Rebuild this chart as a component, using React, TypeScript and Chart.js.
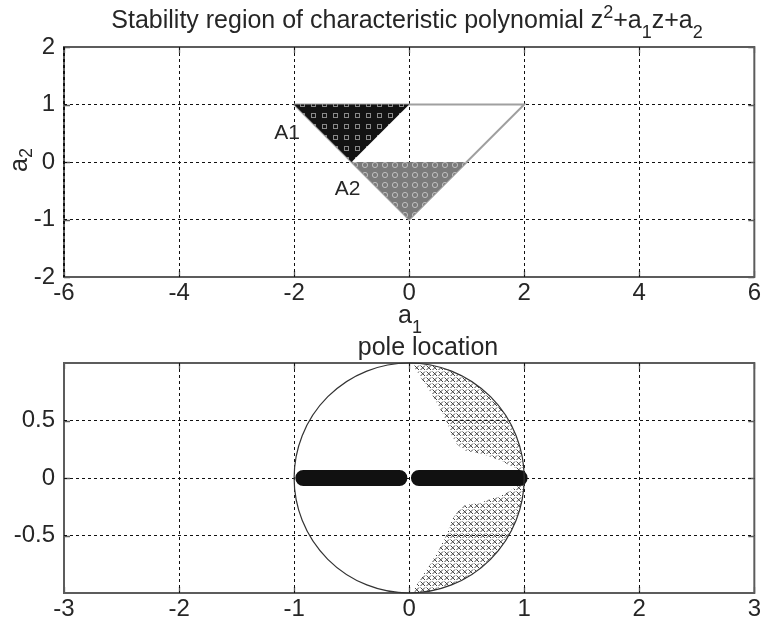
import React, { useEffect, useRef } from 'react';
import { Chart, registerables } from 'chart.js';
Chart.register(...registerables);

const FONT = '"Liberation Sans", Arial, Helvetica, sans-serif';
const TEXT = '#262626';

// ---- top plot: stability region ----
const TOP_X_TICKS = [-6, -4, -2, 0, 2, 4, 6];
const TOP_Y_TICKS = [-2, -1, 0, 1, 2];
const STABLE_X = [-2, 2, 0, -2];
const STABLE_Y = [1, 1, -1, 1];
const A1_X = [-2, 0, -1, -2];
const A1_Y = [1, 1, 0, 1];
const A2_X = [-1, 1, 0, -1];
const A2_Y = [0, 0, -1, 0];
const REGION_NAMES = ['A1', 'A2'];
const REGION_LABEL_X = [-2.12, -1.07];
const REGION_LABEL_Y = [0.5, -0.47];

// ---- bottom plot: pole location ----
const BOTTOM_X_TICKS = [-3, -2, -1, 0, 1, 2, 3];
const BOTTOM_Y_TICKS = [-0.5, 0, 0.5];
const UNIT_CIRCLE_RADIUS = 1;
const REAL_POLE_X = [-0.92, -0.085, 0, 0.085, 0.96];
const REAL_POLE_Y = [0, 0, null, 0, 0];
const COMPLEX_OUTER_X = [0.05, 0.2, 0.35, 0.5, 0.62, 0.72, 0.81, 0.88, 0.93, 0.97, 0.99, 1.0];
const COMPLEX_OUTER_Y = [0.998, 0.98, 0.94, 0.87, 0.78, 0.69, 0.59, 0.47, 0.36, 0.24, 0.12, 0.05];
const COMPLEX_INNER_X = [0.95, 0.8, 0.63, 0.48, 0.41, 0.37, 0.33, 0.26, 0.19, 0.11, 0.04];
const COMPLEX_INNER_Y = [0.07, 0.15, 0.21, 0.24, 0.3, 0.37, 0.48, 0.62, 0.74, 0.86, 0.97];

type Seg = { t: string; k?: 'sup' | 'sub' };

function drawRich(ctx: CanvasRenderingContext2D, segs: Seg[], cx: number, baseline: number, size: number, subShift = 0.38) {
  const small = Math.round(size * 0.72);
  const widths = segs.map((s) => {
    ctx.font = `${s.k ? small : size}px ${FONT}`;
    return ctx.measureText(s.t).width;
  });
  const total = widths.reduce((a, b) => a + b, 0);
  let x = cx - total / 2;
  ctx.textAlign = 'left';
  ctx.textBaseline = 'alphabetic';
  segs.forEach((s, i) => {
    ctx.font = `${s.k ? small : size}px ${FONT}`;
    const dy = s.k === 'sup' ? -size * 0.42 : s.k === 'sub' ? size * subShift : 0;
    ctx.fillText(s.t, x, baseline + dy);
    x += widths[i];
  });
}

function pts(xs: number[], ys: (number | null)[]) {
  return xs.map((x, i) => ({ x, y: ys[i] }));
}

function makePattern(ctx: CanvasRenderingContext2D, w: number, h: number, paint: (g: CanvasRenderingContext2D) => void) {
  const c = document.createElement('canvas');
  c.width = w;
  c.height = h;
  const g = c.getContext('2d')!;
  paint(g);
  return ctx.createPattern(c, 'repeat')!;
}

function framePlugin(xTicks: number[], yTicks: number[]) {
  return {
    id: 'frame',
    beforeDraw(chart: any) {
      const { ctx, chartArea: a, scales } = chart;
      ctx.save();
      ctx.fillStyle = '#fff';
      ctx.fillRect(0, 0, chart.width, chart.height);
      ctx.strokeStyle = '#5c5c5c';
      ctx.lineWidth = 2;
      ctx.strokeRect(a.left, a.top, a.right - a.left, a.bottom - a.top);
      ctx.lineWidth = 1.3;
      ctx.beginPath();
      xTicks.forEach((v) => {
        const px = Math.round(scales.x.getPixelForValue(v)) + 0.5;
        ctx.moveTo(px, a.bottom);
        ctx.lineTo(px, a.bottom - 6);
        ctx.moveTo(px, a.top);
        ctx.lineTo(px, a.top + 6);
      });
      yTicks.forEach((v) => {
        const py = Math.round(scales.y.getPixelForValue(v)) + 0.5;
        ctx.moveTo(a.left, py);
        ctx.lineTo(a.left + 6, py);
        ctx.moveTo(a.right, py);
        ctx.lineTo(a.right - 6, py);
      });
      ctx.stroke();
      ctx.restore();
    },
  };
}

function axisOptions(
  min: number, max: number, ticks: number[], hidden: number[], bold: number[], fit: (s: any) => void, pad: number,
) {
  return {
    type: 'linear' as const,
    min,
    max,
    afterBuildTicks: (s: any) => {
      s.ticks = ticks.map((v) => ({ value: v }));
    },
    afterFit: fit,
    grid: {
      color: (c: any) => (c.tick && hidden.includes(c.tick.value) ? 'rgba(0,0,0,0)' : '#111'),
      lineWidth: (c: any) => (c.tick && bold.includes(c.tick.value) ? 2 : 1),
      drawTicks: false,
    },
    border: { display: false, dash: [3, 3] },
    ticks: {
      color: TEXT,
      font: { family: FONT, size: 24 },
      padding: pad,
      autoSkip: false,
      maxRotation: 0,
      callback: (v: any) => String(v),
    },
  };
}

export default function App() {
  const topRef = useRef<HTMLCanvasElement>(null);
  const botRef = useRef<HTMLCanvasElement>(null);

  useEffect(() => {
    const topCanvas = topRef.current!;
    const botCanvas = botRef.current!;
    const tctx = topCanvas.getContext('2d')!;
    const bctx = botCanvas.getContext('2d')!;

    const a1Pattern = makePattern(tctx, 11, 11, (g) => {
      g.fillStyle = '#131313';
      g.fillRect(0, 0, 11, 11);
      g.strokeStyle = '#8a8a8a';
      g.lineWidth = 1;
      g.strokeRect(3.5, 3.5, 4, 4);
    });
    const a2Pattern = makePattern(tctx, 10, 10, (g) => {
      g.fillStyle = '#7a7a7a';
      g.fillRect(0, 0, 10, 10);
      g.strokeStyle = '#c0c0c0';
      g.lineWidth = 1;
      g.beginPath();
      g.arc(5, 5, 2.6, 0, Math.PI * 2);
      g.stroke();
    });
    const xPattern = makePattern(bctx, 6, 6, (g) => {
      g.strokeStyle = '#444';
      g.lineWidth = 1;
      g.beginPath();
      g.moveTo(0.5, 0.5);
      g.lineTo(5, 5);
      g.moveTo(5, 0.5);
      g.lineTo(0.5, 5);
      g.stroke();
    });

    const topText = {
      id: 'topText',
      afterDraw(chart: any) {
        const { ctx, scales } = chart;
        ctx.save();
        ctx.fillStyle = TEXT;
        drawRich(ctx, [
          { t: 'Stability region of characteristic polynomial z' },
          { t: '2', k: 'sup' },
          { t: '+a' },
          { t: '1', k: 'sub' },
          { t: 'z+a' },
          { t: '2', k: 'sub' },
        ], 407, 28, 25);
        drawRich(ctx, [{ t: 'a' }, { t: '1', k: 'sub' }], 410, 323, 25);
        ctx.save();
        ctx.translate(27, 160);
        ctx.rotate(-Math.PI / 2);
        drawRich(ctx, [{ t: 'a' }, { t: '2', k: 'sub' }], 0, 0, 25, 0.2);
        ctx.restore();
        ctx.font = `21px ${FONT}`;
        ctx.textAlign = 'center';
        ctx.textBaseline = 'middle';
        REGION_NAMES.forEach((n, i) => {
          ctx.fillText(n, scales.x.getPixelForValue(REGION_LABEL_X[i]), scales.y.getPixelForValue(REGION_LABEL_Y[i]));
        });
        ctx.restore();
      },
    };

    const topChart = new Chart(topCanvas, {
      type: 'scatter',
      data: {
        datasets: [
          { data: pts(A1_X, A1_Y), showLine: true, fill: 'shape', backgroundColor: a1Pattern, borderWidth: 0, pointRadius: 0 } as any,
          { data: pts(A2_X, A2_Y), showLine: true, fill: 'shape', backgroundColor: a2Pattern, borderWidth: 0, pointRadius: 0 } as any,
          { data: pts(STABLE_X, STABLE_Y), showLine: true, fill: false, borderColor: '#a0a0a0', borderWidth: 2, pointRadius: 0 } as any,
        ],
      },
      options: {
        animation: false,
        responsive: false,
        layout: { padding: { top: 47, left: 0, right: 6, bottom: 0 } },
        plugins: { legend: { display: false }, tooltip: { enabled: false } },
        scales: {
          x: axisOptions(-6, 6, TOP_X_TICKS, [6], [-6], (s: any) => { s.height = 58; }, 2),
          y: axisOptions(-2, 2, TOP_Y_TICKS, [-2, 2], [], (s: any) => { s.width = 64; }, 9),
        },
      } as any,
      plugins: [framePlugin(TOP_X_TICKS, TOP_Y_TICKS), topText],
    });

    const botText = {
      id: 'botText',
      afterDatasetsDraw(chart: any) {
        const { ctx, scales } = chart;
        const cx = scales.x.getPixelForValue(0);
        const cy = scales.y.getPixelForValue(0);
        const rx = scales.x.getPixelForValue(UNIT_CIRCLE_RADIUS) - cx;
        const ry = cy - scales.y.getPixelForValue(UNIT_CIRCLE_RADIUS);
        ctx.save();
        ctx.strokeStyle = '#333';
        ctx.lineWidth = 1.2;
        ctx.beginPath();
        ctx.ellipse(cx, cy, rx, ry, 0, 0, Math.PI * 2);
        ctx.stroke();
        ctx.restore();
      },
      afterDraw(chart: any) {
        const { ctx } = chart;
        ctx.save();
        ctx.fillStyle = TEXT;
        drawRich(ctx, [{ t: 'pole location' }], 428, 20, 25);
        ctx.restore();
      },
    };

    const lensUpper = pts([...COMPLEX_OUTER_X, ...COMPLEX_INNER_X], [...COMPLEX_OUTER_Y, ...COMPLEX_INNER_Y]);
    const lensLower = lensUpper.map((p) => ({ x: p.x, y: -(p.y as number) }));

    const botChart = new Chart(botCanvas, {
      type: 'scatter',
      data: {
        datasets: [
          { data: pts(REAL_POLE_X, REAL_POLE_Y), showLine: true, spanGaps: false, borderColor: '#111', borderWidth: 16, borderCapStyle: 'round', pointRadius: 0 } as any,
          { data: lensUpper, showLine: true, fill: 'shape', backgroundColor: xPattern, borderWidth: 0, pointRadius: 0 } as any,
          { data: lensLower, showLine: true, fill: 'shape', backgroundColor: xPattern, borderWidth: 0, pointRadius: 0 } as any,
        ],
      },
      options: {
        animation: false,
        responsive: false,
        layout: { padding: { top: 28, left: 0, right: 6, bottom: 0 } },
        plugins: { legend: { display: false }, tooltip: { enabled: false } },
        scales: {
          x: axisOptions(-3, 3, BOTTOM_X_TICKS, [-3, 3], [], (s: any) => { s.height = 37; }, 2),
          y: axisOptions(-1, 1, BOTTOM_Y_TICKS, [], [], (s: any) => { s.width = 64; }, 9),
        },
      } as any,
      plugins: [framePlugin(BOTTOM_X_TICKS, BOTTOM_Y_TICKS), botText],
    });

    return () => {
      topChart.destroy();
      botChart.destroy();
    };
  }, []);

  return (
    <div style={{ position: 'fixed', left: 0, top: 0, width: 763, height: 630, background: '#fff' }}>
      <canvas ref={topRef} width={763} height={335} style={{ display: 'block', width: 763, height: 335 }} />
      <canvas ref={botRef} width={763} height={295} style={{ display: 'block', width: 763, height: 295 }} />
    </div>
  );
}
